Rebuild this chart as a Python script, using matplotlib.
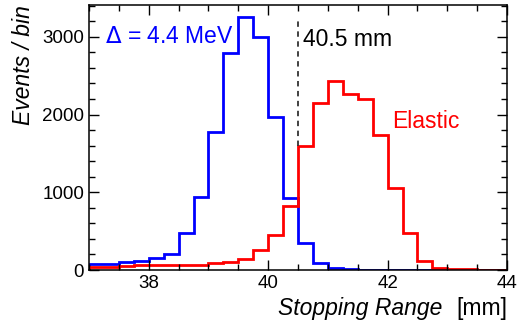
import numpy as np
import matplotlib
matplotlib.use('Agg')
import matplotlib.pyplot as plt
from matplotlib.ticker import MultipleLocator

plt.rcParams['font.family'] = ['Liberation Sans', 'DejaVu Sans']

# bin edges: 37 to 44 mm in 0.25 mm steps
edges = np.arange(37.0, 44.0001, 0.25)

blue_counts = [73, 75, 107, 116, 150, 206, 472, 943, 1772, 2789, 3260, 2995, 1973, 923,
               343, 90, 22, 10, 6, 5, 4, 4, 3, 2, 2, 1, 1, 1]
red_counts = [43, 45, 48, 64, 64, 62, 62, 64, 94, 107, 137, 257, 455, 830,
              1598, 2145, 2437, 2261, 2197, 1737, 1059, 480, 116, 22, 12, 8, 6, 5]

cut_x = 40.5
cut_y = [1600, 3200]

fig = plt.figure(figsize=(5.21, 3.27), dpi=100)
ax = fig.add_axes([0.1708, 0.1743, 0.8025, 0.8104])

ax.stairs(blue_counts, edges, color='#0000ff', lw=2)
ax.stairs(red_counts, edges, color='#ff0000', lw=2)
ax.plot([cut_x, cut_x], cut_y, color='#333333', lw=1.3, ls=(0, (3, 2.5)))

ax.text(37.27, 3000, r'$\Delta$ = 4.4 MeV', color='#0000ff', fontsize=16.5, va='center')
ax.text(40.58, 2960, '40.5 mm', color='black', fontsize=16.5, va='center')
ax.text(42.07, 1917, 'Elastic', color='#ff0000', fontsize=16.5, va='center')

ax.set_xlim(37, 44)
ax.set_ylim(0, 3410)
ax.xaxis.set_major_locator(MultipleLocator(2))
ax.xaxis.set_minor_locator(MultipleLocator(0.5))
ax.yaxis.set_major_locator(MultipleLocator(1000))
ax.yaxis.set_minor_locator(MultipleLocator(200))
ax.tick_params(which='both', direction='in', top=True, right=True, labelsize=13.5, width=1)
ax.tick_params(which='major', length=7)
ax.tick_params(which='minor', length=4)
for s in ax.spines.values():
    s.set_linewidth(1.1)

# axis titles, ROOT style: italic quantity, upright unit
fig.text(0.850, 0.037, 'Stopping Range', style='italic', fontsize=16.5, ha='right', va='baseline')
fig.text(0.973, 0.037, '[mm]', fontsize=16.5, ha='right', va='baseline')
fig.text(0.046, 0.985, 'Events / bin', style='italic', fontsize=16.5, rotation=90, ha='center', va='top')

fig.savefig('out.png', dpi=100)
